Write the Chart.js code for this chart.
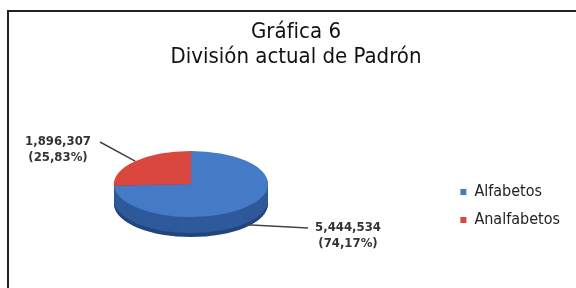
<!DOCTYPE html>
<html lang="es">

<head>
    <meta charset="UTF-8">
    <title>Gráfica 6</title>
    <script src="https://cdn.jsdelivr.net/npm/chart.js@4.4.0/dist/chart.umd.min.js"></script>
    <style>
        html, body { margin: 0; padding: 0; background: #fff; }
        .lienzo { position: relative; width: 576px; height: 288px; overflow: hidden; }
        .marco {
            position: absolute; left: 7px; top: 10px; width: 620px; height: 320px;
            border-top: 2px solid #222; border-left: 2px solid #222;
        }
        canvas { position: absolute; left: 0; top: 0; }
    </style>
</head>

<body>
    <div class="lienzo">
        <div class="marco"></div>
        <canvas id="grafica" width="576" height="288"></canvas>
    </div>

<script>
    // datos
    var categorias = ['Alfabetos', 'Analfabetos'];
    var valores = [5444534, 1896307];
    var porcentajes = [74.17, 25.83];
    var titulo = ['Gráfica 6', 'División actual de Padrón'];

    var colores = ['#457ac6', '#d9473f'];
    var coloresLado = ['#2e5a9a', '#9e302b'];
    var fuente = "'DejaVu Sans Condensed', 'Liberation Sans Narrow', sans-serif";

    // pastel "3d": centro, achatamiento y grosor
    var CX = 191, CY = 184, RADIO = 77, ACHATE = 0.43, GROSOR = 20;
    // donde van las etiquetas (relativo al centro)
    var posEtiqueta = [
        { fin: [117, 44], texto: [157, 44] },
        { fin: [-91, -42], texto: [-133, -42] }
    ];

    function miles(n) {
        return n.toString().replace(/\B(?=(\d{3})+(?!\d))/g, ',');
    }

    const pastel3d = {
        id: 'pastel3d',
        beforeDatasetsDraw(chart) {
            const ctx = chart.ctx;
            const arcos = chart.getDatasetMeta(0).data;
            // lado del cilindro
            for (let d = GROSOR; d > 0; d--) {
                ctx.save();
                ctx.translate(CX, CY + d);
                ctx.scale(1, ACHATE);
                arcos.forEach((a, i) => {
                    ctx.beginPath();
                    ctx.moveTo(0, 0);
                    ctx.arc(0, 0, a.outerRadius, a.startAngle, a.endAngle);
                    ctx.closePath();
                    ctx.fillStyle = d > GROSOR - 4 ? '#22467c' : coloresLado[i];
                    ctx.fill();
                });
                ctx.restore();
            }
            const a = arcos[0];
            ctx.save();
            ctx.translate(CX, CY);
            ctx.scale(1, ACHATE);
            ctx.translate(-a.x, -a.y);
        },
        afterDatasetsDraw(chart) {
            const ctx = chart.ctx;
            ctx.restore();
            const arcos = chart.getDatasetMeta(0).data;
            arcos.forEach((a, i) => {
                const medio = (a.startAngle + a.endAngle) / 2;
                let x = CX + a.outerRadius * Math.cos(medio);
                let y = CY + a.outerRadius * ACHATE * Math.sin(medio);
                if (Math.sin(medio) > 0) y += GROSOR * 0.9;
                const p = posEtiqueta[i];
                ctx.strokeStyle = '#444';
                ctx.lineWidth = 1.5;
                ctx.beginPath();
                ctx.moveTo(x, y);
                ctx.lineTo(CX + p.fin[0], CY + p.fin[1]);
                ctx.stroke();

                ctx.fillStyle = '#333';
                ctx.font = 'bold 13px ' + fuente;
                ctx.textAlign = 'center';
                ctx.textBaseline = 'middle';
                ctx.fillText(miles(valores[i]), CX + p.texto[0], CY + p.texto[1]);
                ctx.fillText('(' + porcentajes[i].toFixed(2).replace('.', ',') + '%)', CX + p.texto[0], CY + p.texto[1] + 16);
            });
        }
    };

    new Chart(document.getElementById('grafica'), {
        type: 'pie',
        data: {
            labels: categorias,
            datasets: [{
                data: valores,
                backgroundColor: colores,
                borderWidth: 0,
                radius: RADIO
            }]
        },
        options: {
            responsive: false,
            animation: false,
            events: [],
            layout: { padding: { left: 22, right: 6, bottom: 0 } },
            plugins: {
                tooltip: { enabled: false },
                title: {
                    display: true,
                    text: titulo,
                    color: '#111',
                    font: { family: fuente, size: 22, weight: 'normal', lineHeight: 1.14 },
                    padding: { top: 20, bottom: 54 }
                },
                legend: {
                    position: 'right',
                    fullSize: false,
                    labels: {
                        boxWidth: 6,
                        boxHeight: 6,
                        padding: 12,
                        color: '#222',
                        font: { family: fuente, size: 16 }
                    }
                }
            }
        },
        plugins: [pastel3d]
    });
</script>
</body>

</html>
